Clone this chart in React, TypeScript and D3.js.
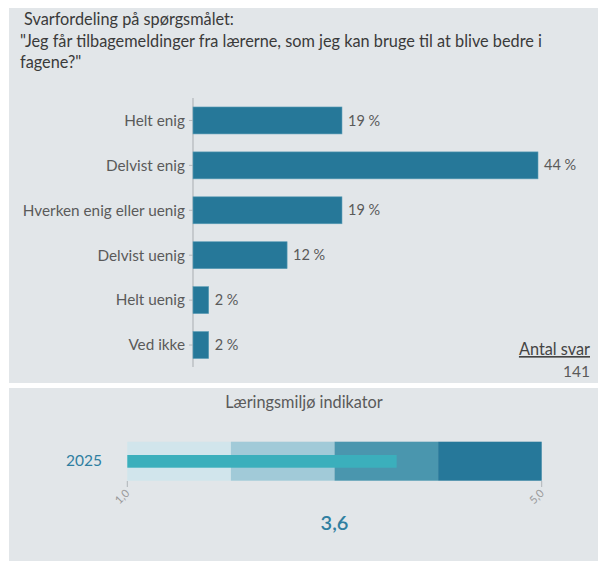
import React from "react";
import * as d3 from "d3";

const categories = ["Helt enig", "Delvist enig", "Hverken enig eller uenig", "Delvist uenig", "Helt uenig", "Ved ikke"];
const percents = [19, 44, 19, 12, 2, 2];
const titleLines = ["Svarfordeling på spørgsmålet:", "\"Jeg får tilbagemeldinger fra lærerne, som jeg kan bruge til at blive bedre i", "fagene?\""];
const responseCount = 141;

const indicatorYear = "2025";
const indicatorValue = 3.6;
const rangeBands = [1, 2, 3, 4, 5];
const bandColors = ["#d1e5ec", "#a1cad8", "#4a96ae", "#26789a"];
const axisTicks = [1, 5];

const FONT = "Lato, 'Open Sans', sans-serif";

export default function App() {
  const W = 598, H = 562;
  const y = d3.scaleBand<string>().domain(categories).range([98, 367.5]).paddingInner(0.4).paddingOuter(0.2);
  const x = d3.scaleLinear().domain([0, 44]).range([193, 538]);
  const bx = d3.scaleLinear().domain([1, 5]).range([127.3, 541.7]);
  const fmt = (v: number) => d3.format(".1f")(v).replace(".", ",");

  return (
    <svg width={W} height={H} style={{ position: "absolute", left: 0, top: 0 }} fontFamily={FONT}>
      <rect x={0} y={0} width={W} height={H} fill="#ffffff" />
      <rect x={9} y={8} width={589} height={375} fill="#e2e6e9" />
      <rect x={9} y={388} width={589} height={173} fill="#e2e6e9" />

      {titleLines.map((t, i) => (
        <text key={i} x={i === 0 ? 24 : 20} y={25 + i * 21.5} fontSize={16.3} fill="#3a3a3a">{t}</text>
      ))}

      <line x1={193} x2={193} y1={98} y2={367} stroke="#a9adb1" strokeWidth={1} />
      {categories.map((c, i) => {
        const yy = y(c)!;
        const bw = y.bandwidth();
        return (
          <g key={c}>
            <line x1={189} x2={193} y1={yy + bw / 2} y2={yy + bw / 2} stroke="#b5b9bd" />
            <text x={185} y={yy + bw / 2} dy="0.35em" textAnchor="end" fontSize={15.3} fill="#5a5a5a">{c}</text>
            <rect x={x(0)} y={yy} width={x(percents[i]) - x(0)} height={bw} fill="#267899" stroke="#5b9db6" strokeWidth={0.6} />
            <text x={x(percents[i]) + 6} y={yy + bw / 2} dy="0.35em" fontSize={14.5} fill="#5a5a5a">{percents[i]} %</text>
          </g>
        );
      })}

      <text x={590} y={355} textAnchor="end" fontSize={16.3} fill="#444" textDecoration="underline">Antal svar</text>
      <text x={590} y={377} textAnchor="end" fontSize={15.5} fill="#5a5a5a">{responseCount}</text>

      <text x={304} y={408} textAnchor="middle" fontSize={16.3} fill="#5a5a5a">Læringsmiljø indikator</text>

      {bandColors.map((col, i) => (
        <rect key={i} x={bx(rangeBands[i])} y={441.7} width={bx(rangeBands[i + 1]) - bx(rangeBands[i])} height={39} fill={col} />
      ))}
      <rect x={bx(1)} y={455} width={bx(indicatorValue) - bx(1)} height={12.7} fill="#3bafbc" />
      <text x={102} y={461} dy="0.35em" textAnchor="end" fontSize={15.5} fill="#2f7fa1">{indicatorYear}</text>

      {axisTicks.map((t) => (
        <g key={t} transform={`translate(${bx(t)},481)`}>
          <line y1={0} y2={6} stroke="#b0b4b8" />
          <text transform="translate(3,13) rotate(-45)" textAnchor="end" fontSize={11} fill="#999">{fmt(t)}</text>
        </g>
      ))}

      <text x={bx(3)} y={530} textAnchor="middle" fontSize={20} fontWeight={600} fill="#2f7fa1">{fmt(indicatorValue)}</text>
    </svg>
  );
}
